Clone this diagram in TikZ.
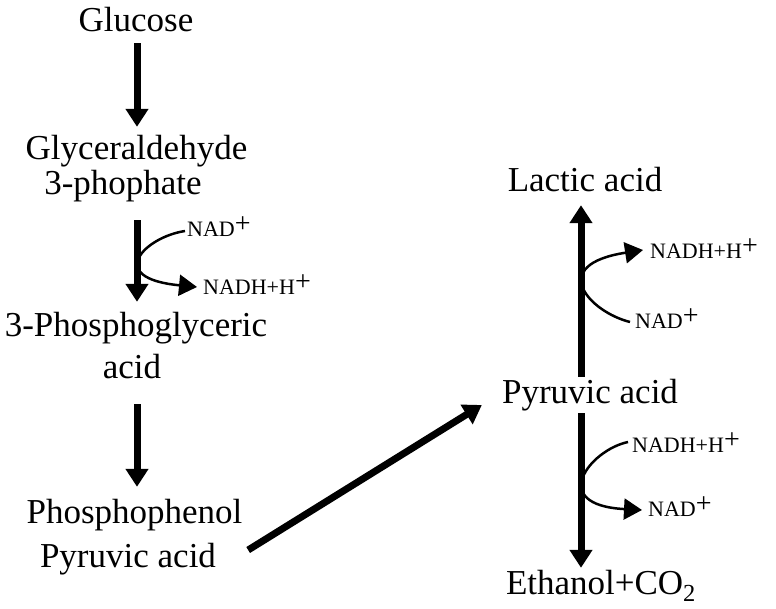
\documentclass[tikz,border=0pt]{standalone}
\usepackage{fontspec}
\setmainfont{Liberation Serif}
\usetikzlibrary{arrows.meta,calc}
\newcommand{\supplus}{\raisebox{3.5pt}{\fontsize{28}{28}\selectfont +}}
\begin{document}
\begin{tikzpicture}[x=1pt,y=-1pt,
  bigarrow/.style={draw, line width=7pt, -{Triangle[width=22pt,length=18pt]}},
  cofarrow/.style={draw, line width=2.5pt, -{Triangle[width=21pt,length=18pt]}},
  lbl/.style={font=\fontsize{35}{40}\selectfont, inner sep=0pt, text height=23pt, text depth=8pt, anchor=base},
  sml/.style={font=\fontsize{22}{26}\selectfont, inner sep=0pt, text height=15pt, text depth=5pt, anchor=base west}]
\useasboundingbox (0,0) rectangle (776,608);
% main labels
\node[lbl] (glucose) at (136,31) {Glucose};
\node[lbl] (gly1) at (136.5,159) {Glyceraldehyde};
\node[lbl] (gly2) at (123,194) {3-phophate};
\node[lbl] (pga1) at (136,336) {3-Phosphoglyceric};
\node[lbl] (pga2) at (132,378) {acid};
\node[lbl] (pep1) at (134.5,523) {Phosphophenol};
\node[lbl] (pep2) at (128,567) {Pyruvic acid};
\node[lbl] (lactic) at (585,191) {Lactic acid};
\node[lbl] (pyr) at (590,403) {Pyruvic acid};
\node[lbl] (eth) at (601,594) {Ethanol+CO\textsubscript{2}};
% cofactor labels
\node[sml] (nad1) at (187,236) {NAD\supplus};
\node[sml] (nadh1) at (203,294) {NADH+H\supplus};
\node[sml] (nadh2) at (650,258) {NADH+H\supplus};
\node[sml] (nad2) at (635,328) {NAD\supplus};
\node[sml] (nadh3) at (632,452) {NADH+H\supplus};
\node[sml] (nad3) at (648,516) {NAD\supplus};
% main arrows
\draw[bigarrow] ($(glucose.south)+(1,4)$) -- ($(gly1.north)+(0.5,-9)$);
\draw[bigarrow] ($(gly2.south)+(14,18)$) -- ($(pga1.north)+(1,-11)$);
\draw[bigarrow] ($(pga2.south)+(5,18)$) -- ($(pep1.north)+(2.5,-13)$);
\draw[bigarrow] ($(pep2.east)+(32,-9.5)$) -- ($(pyr.west)+(-20,9.5)$);
\draw[bigarrow] ($(pyr.north)+(-9,-3)$) -- ($(lactic.south)+(-4,6)$);
\draw[bigarrow] ($(pyr.south)+(-9,2)$) -- ($(eth.north)+(-20,-3)$);
% cofactor curves
\draw[cofarrow] ($(nad1.west)+(-2,0)$) .. controls (145,237) and (104,278) .. ($(nadh1.west)+(-6,-2)$);
\draw[cofarrow] ($(nad2.west)+(-5,-1)$) .. controls (590,312) and (546,265) .. ($(nadh2.west)+(-7,-3)$);
\draw[cofarrow] ($(nadh3.west)+(-4,-5)$) .. controls (590,450) and (547,505) .. ($(nad3.west)+(-6,-1)$);
\end{tikzpicture}
\end{document}
